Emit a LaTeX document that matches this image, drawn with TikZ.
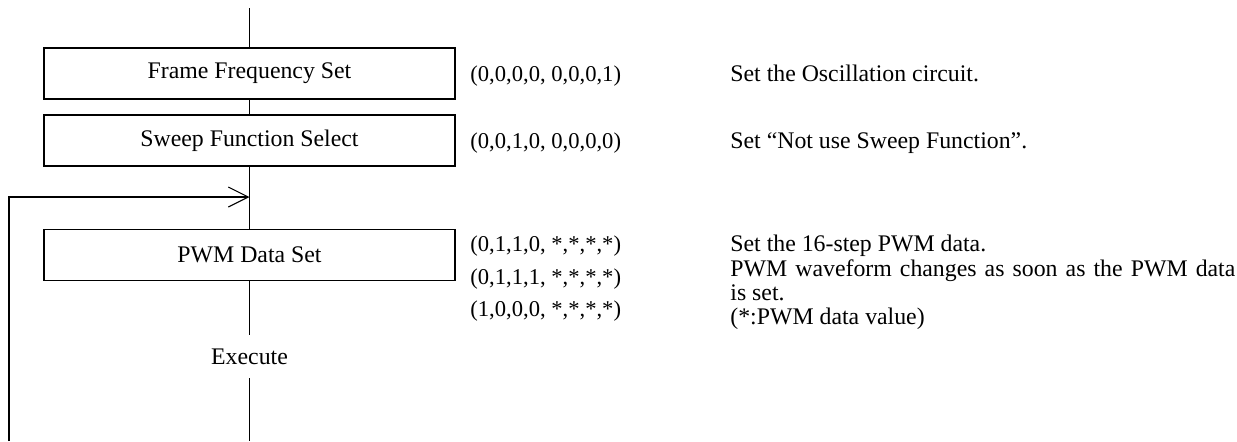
\documentclass[tikz,border=0pt]{standalone}
\usepackage{fontspec}
\setmainfont{Liberation Serif}
\usetikzlibrary{positioning}
\usetikzlibrary{arrows.meta}

\tikzset{
  stepbox/.style={draw, line width=0.6pt, minimum width=205.5pt, minimum height=25.5pt, inner sep=0pt},
  codetext/.style={anchor=base west, inner sep=0pt, font=\fontsize{11.3}{13}\selectfont},
  desctext/.style={anchor=base west, inner sep=0pt},
  flow/.style={line width=0.55pt}
}

\begin{document}
\begin{tikzpicture}[x=0.5pt, y=-0.5pt, every node/.style={font=\fontsize{11.9}{14}\selectfont}]
				\useasboundingbox (0,0) rectangle (1237,441);
				\node[stepbox] (F1) at (249.5,73.5) {Frame Frequency Set};
				\node[stepbox] (F2) at (249.5,140.5) {Sweep Function Select};
				\node[stepbox] (F3) at (249.5,255) {PWM Data Set};
				\node[inner sep=0pt, minimum height=21.5pt] (EX) at (249.5,356.5) {Execute};
				
				\coordinate (TOP) at (249.5,8);
				\coordinate (BOT) at (249.5,441);
				\coordinate (LS) at (9,441);
				\coordinate (LT) at (249.5,197);
				
				\node[codetext] (C1) at (470,81.5) {(0,0,0,0, 0,0,0,1)};
				\node[codetext] (C2) at (470,148.5) {(0,0,1,0, 0,0,0,0)};
				\node[codetext] (C3a) at (470,251) {(0,1,1,0, *,*,*,*)};
				\node[codetext] (C3b) at (470,284) {(0,1,1,1, *,*,*,*)};
				\node[codetext] (C3c) at (470,316) {(1,0,0,0, *,*,*,*)};
				
				\node[desctext] (D1) at (730,81.5) {Set the Oscillation circuit.};
				\node[desctext] (D2) at (730,148.5) {Set “Not use Sweep Function”.};
				\node[desctext] (D3a) at (730,251) {Set the 16-step PWM data.};
				\node[desctext] (D3b) at (730,276) {\makebox[252.5pt][s]{PWM waveform changes as soon as the PWM data}};
				\node[desctext] (D3c) at (730,300) {is set.};
				\node[desctext] (D3d) at (730,324) {(*:PWM data value)};
				
				\draw[flow] (TOP) -- (F1);
				\draw[flow] (F1) -- (F2);
				\draw[flow] (F2) -- (F3);
				\draw[flow] (F3) -- (EX);
				\draw[flow] (EX) -- (BOT);
				\draw[flow,-{Straight Barb[length=10pt,width=10pt]}] (LS) |- (LT);
			\end{tikzpicture}
\end{document}
